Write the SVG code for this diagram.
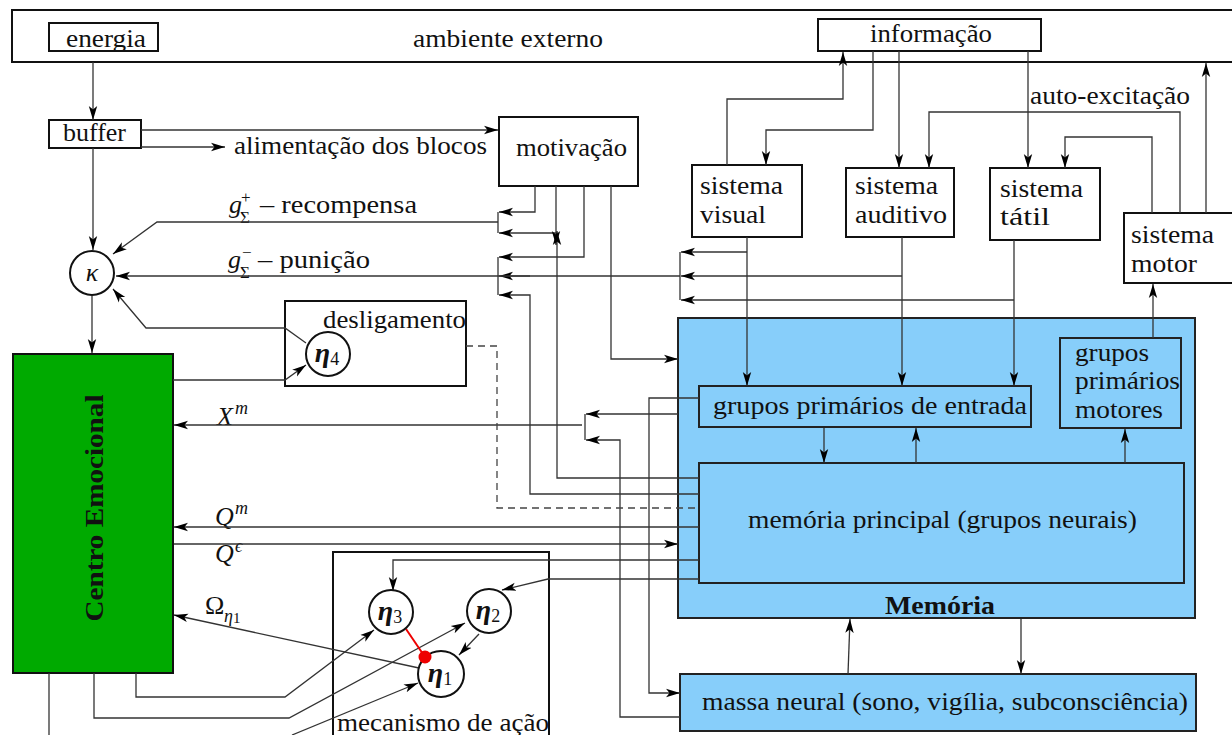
<svg xmlns="http://www.w3.org/2000/svg" width="1232" height="735" viewBox="0 0 1232 735">
<defs>
<marker id="a" markerWidth="16" markerHeight="10" refX="14" refY="5" orient="auto" markerUnits="userSpaceOnUse"><path d="M0,0.8 L14,5 L0,9.2 L3.5,5 z" fill="#000"/></marker>
<style>
text{font-family:"Liberation Serif","DejaVu Serif","Times New Roman",serif;font-size:26px;fill:#111}
.box{fill:#fff;stroke:#111;stroke-width:2}
.nb{fill:none;stroke:#111;stroke-width:2}
.blue{fill:#87CEFA;stroke:#222;stroke-width:2}
.c{fill:none;stroke:#333;stroke-width:1.3}
.c2{fill:none;stroke:#333;stroke-width:1.3;marker-end:url(#a)}
.d{fill:none;stroke:#444;stroke-width:1.3;stroke-dasharray:7,5}
.circ{fill:#fff;stroke:#111;stroke-width:2}
.it{font-style:italic}
.eta{font-style:italic;font-weight:bold;font-size:28px}
.sub{font-size:18px}
.sm{font-size:17px}
</style>
</defs>
<g id="ambiente">
<rect class="box" x="12" y="10" width="1230" height="52"/>
<text x="413" y="47" textLength="190" lengthAdjust="spacingAndGlyphs">ambiente externo</text>
</g>
<g id="energia"><rect class="box" x="49" y="23" width="109" height="28"/><text x="66" y="47" textLength="80" lengthAdjust="spacingAndGlyphs">energia</text></g>
<g id="informacao"><rect class="box" x="818" y="19" width="223" height="32"/><text x="870" y="42" textLength="122" lengthAdjust="spacingAndGlyphs">informação</text></g>
<g id="buffer"><rect class="box" x="49" y="120" width="92" height="28"/><text x="63" y="141" textLength="63" lengthAdjust="spacingAndGlyphs">buffer</text></g>
<g id="alimentacao"><text x="234" y="154" textLength="253" lengthAdjust="spacingAndGlyphs">alimentação dos blocos</text></g>
<g id="motivacao"><rect class="box" x="499" y="117" width="139" height="69"/><text x="516" y="156" textLength="111" lengthAdjust="spacingAndGlyphs">motivação</text></g>
<g id="visual"><rect class="box" x="692" y="165" width="110" height="72"/><text x="700" y="194" textLength="83" lengthAdjust="spacingAndGlyphs">sistema</text><text x="700" y="223" textLength="66" lengthAdjust="spacingAndGlyphs">visual</text></g>
<g id="auditivo"><rect class="box" x="846" y="168" width="108" height="69"/><text x="855" y="194" textLength="83" lengthAdjust="spacingAndGlyphs">sistema</text><text x="855" y="223" textLength="92" lengthAdjust="spacingAndGlyphs">auditivo</text></g>
<g id="tatil"><rect class="box" x="990" y="168" width="110" height="72"/><text x="1000" y="197" textLength="83" lengthAdjust="spacingAndGlyphs">sistema</text><text x="1000" y="225" textLength="50" lengthAdjust="spacingAndGlyphs">tátil</text></g>
<g id="motor"><rect class="box" x="1124" y="213" width="115" height="70"/><text x="1131" y="243" textLength="83" lengthAdjust="spacingAndGlyphs">sistema</text><text x="1131" y="272" textLength="66" lengthAdjust="spacingAndGlyphs">motor</text></g>
<g id="autoexcitacao"><text x="1030" y="104" textLength="160" lengthAdjust="spacingAndGlyphs">auto-excitação</text></g>
<g id="memoria">
<rect class="blue" x="678" y="318" width="517" height="300"/>
<text x="885" y="614" font-weight="bold" textLength="110" lengthAdjust="spacingAndGlyphs">Memória</text>
</g>
<g id="entrada"><rect class="blue" x="699" y="386" width="332" height="41"/><text x="713" y="414" textLength="314" lengthAdjust="spacingAndGlyphs">grupos primários de entrada</text></g>
<g id="motores"><rect class="blue" x="1060" y="338" width="121" height="90"/><text x="1075" y="361" textLength="74" lengthAdjust="spacingAndGlyphs">grupos</text><text x="1075" y="389" textLength="105" lengthAdjust="spacingAndGlyphs">primários</text><text x="1075" y="418" textLength="88" lengthAdjust="spacingAndGlyphs">motores</text></g>
<g id="principal"><rect class="blue" x="699" y="463" width="485" height="120"/><text x="748" y="528" textLength="389" lengthAdjust="spacingAndGlyphs">memória principal (grupos neurais)</text></g>
<g id="massa"><rect class="blue" x="680" y="674" width="516" height="57"/><text x="702" y="710" textLength="486" lengthAdjust="spacingAndGlyphs">massa neural (sono, vigília, subconsciência)</text></g>
<g id="centro">
<rect x="13" y="354" width="160" height="319" fill="#00AA00" stroke="#111" stroke-width="2"/>
<text transform="translate(103,508) rotate(-90)" text-anchor="middle" font-weight="bold" textLength="227" lengthAdjust="spacingAndGlyphs">Centro Emocional</text>
</g>
<g id="desligamento"><rect class="nb" x="285" y="301" width="181" height="85"/><text x="323" y="328" textLength="143" lengthAdjust="spacingAndGlyphs">desligamento</text></g>
<g id="mecanismo"><rect class="nb" x="333" y="552" width="216" height="200"/><text x="337" y="731" textLength="212" lengthAdjust="spacingAndGlyphs">mecanismo de ação</text></g>
<g id="labels">
<text class="it" x="229" y="213">g</text><text class="sm" x="241" y="203">+</text><text class="sm" x="240" y="223">Σ</text><text x="260" y="213" textLength="157" lengthAdjust="spacingAndGlyphs">– recompensa</text>
<text class="it" x="228" y="268">g</text><text class="sm" x="242" y="258">−</text><text class="sm" x="240" y="278">Σ</text><text x="258" y="268" textLength="112" lengthAdjust="spacingAndGlyphs">– punição</text>
<text class="it" x="217" y="425">X</text><text class="it sub" x="235" y="414">m</text>
<text class="it" x="215" y="525">Q</text><text class="it sub" x="235" y="514">m</text>
<text class="it" x="215" y="562">Q</text><text class="it sub" x="235" y="552">ϵ</text>
<text x="205" y="614">Ω</text><text x="224" y="622"><tspan class="it" font-size="18">η</tspan><tspan font-size="15" dx="0" dy="1">1</tspan></text>
</g>
<g id="connectors">
<path class="c2" d="M93,62 V120"/>
<path class="c2" d="M141,130 H498"/>
<path class="c2" d="M141,147 H225"/>
<path class="c2" d="M93,148 V250"/>
<path class="c2" d="M92,296 V353"/>
<path class="c" d="M498,212 V233"/>
<path class="c2" d="M498,222 H157 L113,254"/>
<path class="c2" d="M535,186 V212 H499"/>
<path class="c2" d="M556,233 H499"/>
<path class="c2" d="M556,186 V245"/>
<path class="c2" d="M699,478 H557 V231"/>
<path class="c" d="M498,257 V295"/>
<path class="c2" d="M584,186 V257 H499"/>
<path class="c2" d="M699,494 H530 V295 H499"/>
<path class="c2" d="M530,276 H499"/>
<path class="c2" d="M680,276 H116"/>
<path class="c2" d="M611,186 V359 H678"/>
<path class="c2" d="M306,343 L285,328 H146 L113,289"/>
<path class="c2" d="M173,380 H285 L306,365"/>
<path class="c" d="M680,252 V300"/>
<path class="c2" d="M747,252 H681"/>
<path class="c2" d="M902,276 H681"/>
<path class="c2" d="M1014,300 H681"/>
<path class="c2" d="M747,237 V386"/>
<path class="c2" d="M902,237 V386"/>
<path class="c2" d="M1014,240 V386"/>
<path class="c2" d="M727,165 V99 H843 V52"/>
<path class="c2" d="M873,51 V130 H766 V165"/>
<path class="c2" d="M899,51 V168"/>
<path class="c2" d="M1028,51 V168"/>
<path class="c2" d="M1180,213 V112 H929 V168"/>
<path class="c2" d="M1152,213 V137 H1065 V168"/>
<path class="c2" d="M1206,213 V63"/>
<path class="c2" d="M1153,338 V284"/>
<path class="c2" d="M824,428 V463"/>
<path class="c2" d="M916,463 V428"/>
<path class="c2" d="M1125,463 V429"/>
<path class="c2" d="M1021,619 V674"/>
<path class="c2" d="M848,674 L850,619"/>
<path class="c2" d="M699,398 H649 V693 H680"/>
<path class="c2" d="M680,717 H620 V440 H586"/>
<path class="c2" d="M678,414 H586"/>
<path class="c" d="M585,414 V440"/>
<path class="c2" d="M582,425 H174"/>
<path class="d" d="M466,346 H497 V508 H699"/>
<path class="c2" d="M699,527 H174"/>
<path class="c2" d="M174,544 H678"/>
<path class="c2" d="M699,560 H393 V591"/>
<path class="c2" d="M699,579 H548 L502,590"/>
<path class="c2" d="M479,634 L459,655"/>
<path class="c2" d="M419,668 L174,615"/>
<path class="c2" d="M136,673 V697 H285 L374,630"/>
<path class="c2" d="M94,673 V718 H289 L465,623"/>
<path class="c" d="M49,673 V735"/>
<path class="c2" d="M292,735 L418,683"/>
<path d="M406,629 L425,657" stroke="#e00" stroke-width="2" fill="none"/>
</g>
<g id="kappa"><circle class="circ" cx="92" cy="273" r="22"/><text class="it" x="92" y="281" text-anchor="middle">κ</text></g>
<g id="eta4"><circle class="circ" cx="328" cy="354" r="22"/><text x="327" y="362" text-anchor="middle"><tspan class="eta">η</tspan><tspan font-size="18" dy="3">4</tspan></text></g>
<g id="eta3"><circle class="circ" cx="391" cy="612" r="22"/><text x="390" y="620" text-anchor="middle"><tspan class="eta">η</tspan><tspan font-size="18" dy="3">3</tspan></text></g>
<g id="eta2"><circle class="circ" cx="489" cy="611" r="22"/><text x="488" y="619" text-anchor="middle"><tspan class="eta">η</tspan><tspan font-size="18" dy="3">2</tspan></text></g>
<g id="eta1"><circle class="circ" cx="441" cy="674" r="23"/><text x="440" y="682" text-anchor="middle"><tspan class="eta">η</tspan><tspan font-size="18" dy="3">1</tspan></text></g>
<g id="inhib"><circle cx="425" cy="657" r="6.5" fill="#e00"/></g>
</svg>
